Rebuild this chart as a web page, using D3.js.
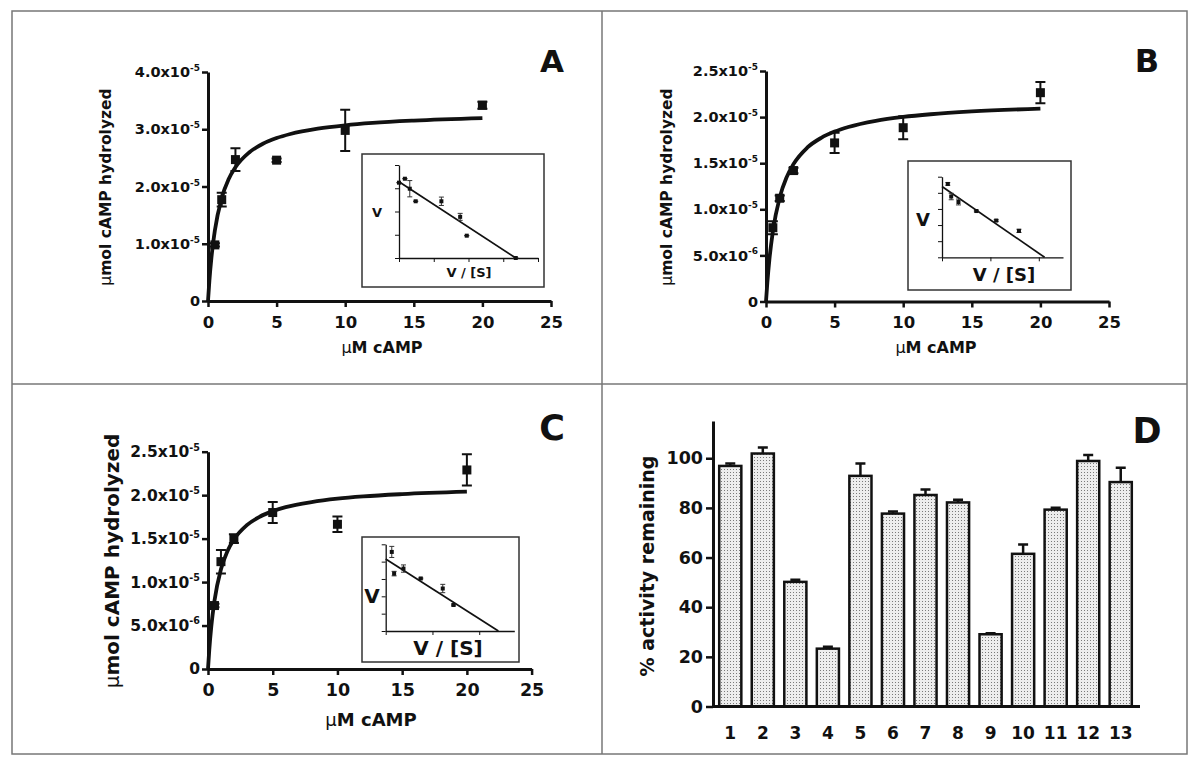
<!DOCTYPE html>
<html><head><meta charset="utf-8">
<script src="https://cdn.jsdelivr.net/npm/d3@7"></script>
<style>
body{margin:0;background:#fff}
svg{display:block}
text{font-family:"DejaVu Sans","Liberation Sans",Arial,sans-serif;font-weight:bold;fill:#111}
</style>
</head><body>
<svg id="c" width="1200" height="766"></svg>
<script>
// ---------------- DATA ----------------
const concentrations = [0.5, 1, 2, 5, 10, 20];          // µM cAMP
const meanA = [0.98e-5, 1.77e-5, 2.47e-5, 2.46e-5, 2.98e-5, 3.42e-5];
const errA  = [0.03e-5, 0.12e-5, 0.20e-5, 0.03e-5, 0.36e-5, 0.06e-5];
const meanB = [0.80e-5, 1.12e-5, 1.42e-5, 1.72e-5, 1.885e-5, 2.265e-5];
const errB  = [0.07e-5, 0.03e-5, 0.03e-5, 0.11e-5, 0.125e-5, 0.115e-5];
const meanC = [0.73e-5, 1.235e-5, 1.50e-5, 1.80e-5, 1.665e-5, 2.29e-5];
const errC  = [0.02e-5, 0.135e-5, 0.05e-5, 0.12e-5, 0.09e-5, 0.18e-5];

// fitted curves
const fitX = [0, 0.1, 0.25, 0.5, 1, 1.5, 2, 3, 4, 5, 6, 8, 10, 12, 15, 20];
const fitA = [0, 0.351e-5, 0.757e-5, 1.233e-5, 1.800e-5, 2.126e-5, 2.337e-5, 2.595e-5, 2.746e-5, 2.846e-5, 2.917e-5, 3.010e-5, 3.069e-5, 3.110e-5, 3.151e-5, 3.194e-5];
const fitB = [0, 0.211e-5, 0.460e-5, 0.760e-5, 1.129e-5, 1.346e-5, 1.490e-5, 1.668e-5, 1.773e-5, 1.843e-5, 1.893e-5, 1.960e-5, 2.002e-5, 2.031e-5, 2.061e-5, 2.092e-5];
const fitC = [0, 0.223e-5, 0.481e-5, 0.785e-5, 1.147e-5, 1.355e-5, 1.490e-5, 1.655e-5, 1.752e-5, 1.816e-5, 1.862e-5, 1.921e-5, 1.960e-5, 1.986e-5, 2.012e-5, 2.040e-5];

const xTicksMain = [0, 5, 10, 15, 20, 25];
const yTicksA  = [0, 1e-5, 2e-5, 3e-5, 4e-5];
const yTicksBC = [0, 5e-6, 1e-5, 1.5e-5, 2e-5, 2.5e-5];

// Eadie-Hofstee insets (V/[S] vs V), arbitrary units
const insetAx   = [0, 0.17, 0.31, 0.48, 1.22, 1.76, 1.95, 3.36];
const insetAy   = [3.24, 3.41, 2.98, 2.44, 2.44, 1.77, 0.96, 0];
const insetAerr = [0, 0, 0.35, 0, 0.18, 0.15, 0, 0];
const insetAlineX = [0, 3.36], insetAlineY = [3.28, 0];
const insetBx   = [0.12, 0.19, 0.34, 0.71, 1.12, 1.59];
const insetBy   = [4.55, 3.77, 3.43, 2.87, 2.28, 1.64];
const insetBerr = [0.08, 0.20, 0.18, 0.05, 0.05, 0.10];
const insetBlineX = [0, 2.12], insetBlineY = [4.39, 0];
const insetCx   = [0.13, 0.18, 0.38, 0.75, 1.22, 1.45];
const insetCy   = [4.56, 3.31, 3.60, 3.03, 2.45, 1.50];
const insetCerr = [0.32, 0.13, 0.21, 0.03, 0.24, 0.05];
const insetClineX = [0, 2.41], insetClineY = [4.15, 0];

// Panel D
const treatments  = ["1","2","3","4","5","6","7","8","9","10","11","12","13"];
const activity    = [96.9, 101.9, 50.2, 23.3, 92.9, 77.7, 85.2, 82.2, 29.1, 61.5, 79.3, 98.9, 90.4];
const activityErr = [1.0, 2.4, 0.9, 0.8, 5.0, 0.8, 2.2, 1.1, 0.4, 3.8, 0.8, 2.4, 5.8];
const yTicksD = [0, 20, 40, 60, 80, 100];

// ---------------- DRAWING ----------------
const svg = d3.select("#c");
svg.append("rect").attr("width", 1200).attr("height", 766).attr("fill", "#fff");
const defs = svg.append("defs");
const pat = defs.append("pattern").attr("id", "dots").attr("patternUnits", "userSpaceOnUse")
  .attr("width", 3).attr("height", 3);
pat.append("rect").attr("width", 3).attr("height", 3).attr("fill", "#ededed");
pat.append("rect").attr("x", 1).attr("y", 1).attr("width", 1).attr("height", 1).attr("fill", "#7a7a7a");

// frame
const frame = svg.append("g").attr("fill", "none").attr("stroke", "#777").attr("stroke-width", 1.5);
frame.append("rect").attr("x", 12).attr("y", 11).attr("width", 1175).attr("height", 743);
frame.append("line").attr("x1", 602).attr("x2", 602).attr("y1", 11).attr("y2", 754);
frame.append("line").attr("x1", 12).attr("x2", 1187).attr("y1", 384).attr("y2", 384);

function styleAxis(g, sw, tw, fs) {
  g.attr("font-family", null).attr("font-size", fs);
  g.select(".domain").attr("stroke", "#111").attr("stroke-width", sw);
  g.selectAll(".tick line").attr("stroke", "#111").attr("stroke-width", tw);
  g.selectAll(".tick text").attr("fill", "#111");
}

function kineticPanel(cfg) {
  const g = svg.append("g");
  const x = d3.scaleLinear().domain([0, 25]).range(cfg.xr);
  const y = d3.scaleLinear().domain([0, cfg.ymax]).range(cfg.yr);

  const xa = g.append("g").attr("transform", `translate(0,${cfg.yr[0]})`)
    .call(d3.axisBottom(x).tickValues(xTicksMain).tickFormat(d3.format("d"))
      .tickSize(6).tickPadding(cfg.xPad).tickSizeOuter(0));
  styleAxis(xa, 3, 2.5, cfg.xtFont);

  const ya = g.append("g").attr("transform", `translate(${cfg.xr[0]},0)`)
    .call(d3.axisLeft(y).tickValues(cfg.yTicks).tickSize(6).tickPadding(2).tickSizeOuter(0));
  styleAxis(ya, 3, 2.5, cfg.ytFont);
  ya.selectAll(".tick text").each(function (d) {
    const t = d3.select(this).text(null);
    if (d === 0) { t.text("0"); return; }
    const parts = d.toExponential(1).split("e");
    t.append("tspan").text(parts[0] + "x10");
    t.append("tspan").attr("font-size", cfg.ytFont * 0.62).attr("dy", -cfg.ytFont * 0.42).text(parts[1]);
  });

  // fitted curve
  g.append("path").datum(cfg.fit)
    .attr("d", d3.line().x((d, i) => x(fitX[i])).y(d => y(d)).curve(d3.curveMonotoneX))
    .attr("fill", "none").attr("stroke", "#111").attr("stroke-width", 3.8);

  // error bars
  const cap = 5;
  g.selectAll(".eb").data(concentrations).join("path")
    .attr("d", (c, i) => {
      const cx = x(c), top = y(cfg.mean[i] + cfg.err[i]), bot = y(cfg.mean[i] - cfg.err[i]);
      return `M${cx - cap},${top}H${cx + cap}M${cx},${top}V${bot}M${cx - cap},${bot}H${cx + cap}`;
    })
    .attr("fill", "none").attr("stroke", "#111").attr("stroke-width", 2);
  // points
  const s = 9;
  g.selectAll(".pt").data(concentrations).join("rect")
    .attr("x", c => x(c) - s / 2).attr("y", (c, i) => y(cfg.mean[i]) - s / 2)
    .attr("width", s).attr("height", s).attr("fill", "#111");

  // titles
  const xt = g.append("text").attr("x", cfg.xTitle[0]).attr("y", cfg.xTitle[1]).attr("dy", "0.36em")
    .attr("text-anchor", "middle").attr("font-size", cfg.xTitleFont);
  xt.append("tspan").attr("font-weight", "normal").text("\u03bc");
  xt.append("tspan").text("M cAMP");
  const yt = g.append("text").attr("transform", `translate(${cfg.yTitle[0]},${cfg.yTitle[1]}) rotate(-90)`)
    .attr("dy", "0.36em").attr("text-anchor", "middle").attr("font-size", cfg.yTitleFont);
  yt.append("tspan").attr("font-weight", "normal").text("\u03bc");
  yt.append("tspan").text("mol cAMP hydrolyzed");

  g.append("text").attr("x", cfg.letter[0]).attr("y", cfg.letter[1]).attr("text-anchor", "middle")
    .attr("font-size", cfg.letterFont).text(cfg.name);
}

function inset(cfg) {
  const g = svg.append("g");
  g.append("rect").attr("x", cfg.box[0]).attr("y", cfg.box[1])
    .attr("width", cfg.box[2] - cfg.box[0]).attr("height", cfg.box[3] - cfg.box[1])
    .attr("fill", "#fff").attr("stroke", "#333").attr("stroke-width", 1.5);
  const x = d3.scaleLinear().domain([0, cfg.xmax]).range([cfg.ax0, cfg.ax1]);
  const y = d3.scaleLinear().domain([0, cfg.ymax]).range([cfg.ay0, cfg.ay1]);
  const xa = g.append("g").attr("transform", `translate(0,${cfg.ay0})`)
    .call(d3.axisBottom(x).tickValues(cfg.xt).tickSize(4).tickFormat("").tickSizeOuter(0));
  styleAxis(xa, 1.3, 1, 10);
  const ya = g.append("g").attr("transform", `translate(${cfg.ax0},0)`)
    .call(d3.axisLeft(y).tickValues(cfg.yt).tickSize(4).tickFormat("").tickSizeOuter(0));
  styleAxis(ya, 1.3, 1, 10);

  g.append("path").datum(cfg.lineX)
    .attr("d", d3.line().x(d => x(d)).y((d, i) => y(cfg.lineY[i])))
    .attr("fill", "none").attr("stroke", "#111").attr("stroke-width", 1.7);

  const cap = 2.5;
  g.selectAll(".eb").data(cfg.px).join("path")
    .attr("d", (v, i) => {
      const cx = x(v), top = y(cfg.py[i] + cfg.pe[i]), bot = y(cfg.py[i] - cfg.pe[i]);
      return `M${cx - cap},${top}H${cx + cap}M${cx},${top}V${bot}M${cx - cap},${bot}H${cx + cap}`;
    })
    .attr("fill", "none").attr("stroke", "#333").attr("stroke-width", 1);
  const s = cfg.size;
  g.selectAll(".pt").data(cfg.px).join("rect")
    .attr("x", v => x(v) - s / 2).attr("y", (v, i) => y(cfg.py[i]) - s / 2)
    .attr("width", s).attr("height", s).attr("fill", "#111");

  g.append("text").attr("x", cfg.vLab[0]).attr("y", cfg.vLab[1]).attr("dy", "0.36em")
    .attr("text-anchor", "middle").attr("font-size", cfg.font).text("V");
  g.append("text").attr("x", cfg.sLab[0]).attr("y", cfg.sLab[1]).attr("dy", "0.36em")
    .attr("text-anchor", "middle").attr("font-size", cfg.font).text("V / [S]");
}

// Panel A
kineticPanel({ name: "A", xr: [208, 551], yr: [301, 72], ymax: 4e-5, yTicks: yTicksA,
  mean: meanA, err: errA, fit: fitA, xtFont: 16.5, ytFont: 14.5, xPad: 9,
  xTitle: [382, 347], xTitleFont: 16, yTitle: [105, 187], yTitleFont: 15.5,
  letter: [552, 72], letterFont: 31 });
inset({ box: [362, 154, 544, 287], ax0: 399, ax1: 538, ay0: 258, ay1: 165, xmax: 4, ymax: 4,
  xt: [0, 1, 2, 3, 4], yt: [0, 1, 2, 3, 4], px: insetAx, py: insetAy, pe: insetAerr,
  lineX: insetAlineX, lineY: insetAlineY, size: 4, font: 13, vLab: [377, 212], sLab: [469, 272] });

// Panel B
kineticPanel({ name: "B", xr: [766, 1109], yr: [301.5, 71], ymax: 2.5e-5, yTicks: yTicksBC,
  mean: meanB, err: errB, fit: fitB, xtFont: 16.5, ytFont: 14.5, xPad: 9,
  xTitle: [936, 347], xTitleFont: 16, yTitle: [666, 187], yTitleFont: 15.5,
  letter: [1147, 72], letterFont: 32 });
inset({ box: [908, 161, 1071, 290], ax0: 942, ax1: 1063, ay0: 257.3, ay1: 176.7, xmax: 2.5, ymax: 5,
  xt: [0, 1, 2], yt: [0, 1, 2, 3, 4, 5], px: insetBx, py: insetBy, pe: insetBerr,
  lineX: insetBlineX, lineY: insetBlineY, size: 4, font: 18, vLab: [923, 220], sLab: [1004, 275] });

// Panel C
kineticPanel({ name: "C", xr: [208, 531.6], yr: [669, 451.7], ymax: 2.5e-5, yTicks: yTicksBC,
  mean: meanC, err: errC, fit: fitC, xtFont: 17.5, ytFont: 15.5, xPad: 9,
  xTitle: [371, 720], xTitleFont: 18, yTitle: [112, 561], yTitleFont: 20,
  letter: [552, 440], letterFont: 35 });
inset({ box: [362, 537, 519, 662], ax0: 385.7, ax1: 514.3, ay0: 631, ay1: 544.3, xmax: 2.75, ymax: 5,
  xt: [0, 1, 2], yt: [0, 1, 2, 3, 4, 5], px: insetCx, py: insetCy, pe: insetCerr,
  lineX: insetClineX, lineY: insetClineY, size: 4, font: 20, vLab: [372, 596], sLab: [448, 648] });

// Panel D
(function () {
  const g = svg.append("g");
  const x = d3.scaleBand().domain(treatments).range([714, 1137]).paddingInner(0.32).paddingOuter(0.16);
  const y = d3.scaleLinear().domain([0, 115]).range([706.5, 421]);
  g.selectAll(".bar").data(treatments).join("rect")
    .attr("x", t => x(t)).attr("y", (t, i) => y(activity[i]))
    .attr("width", x.bandwidth()).attr("height", (t, i) => y(0) - y(activity[i]))
    .attr("fill", "url(#dots)").attr("stroke", "#111").attr("stroke-width", 2.5);
  const cap = 5;
  g.selectAll(".eb").data(treatments).join("path")
    .attr("d", (t, i) => {
      const cx = x(t) + x.bandwidth() / 2, top = y(activity[i] + activityErr[i]), b = y(activity[i]);
      return `M${cx},${b}V${top}M${cx - cap},${top}H${cx + cap}`;
    })
    .attr("fill", "none").attr("stroke", "#111").attr("stroke-width", 2.5);

  const ya = g.append("g").attr("transform", "translate(713,0)")
    .call(d3.axisLeft(y).tickValues(yTicksD).tickSize(7).tickPadding(3).tickSizeOuter(0));
  styleAxis(ya, 3, 2.5, 17.5);
  const xa = g.append("g").attr("transform", "translate(0,706.5)")
    .call(d3.axisBottom(x).tickSize(0).tickPadding(20).tickSizeOuter(0));
  styleAxis(xa, 3, 0, 17);
  xa.select(".domain").attr("d", "M713,0H1140");

  g.append("text").attr("transform", "translate(647,566) rotate(-90)").attr("dy", "0.36em")
    .attr("text-anchor", "middle").attr("font-size", 19).text("% activity remaining");
  g.append("text").attr("x", 1147).attr("y", 443).attr("text-anchor", "middle")
    .attr("font-size", 35).text("D");
})();
</script>
</body></html>
